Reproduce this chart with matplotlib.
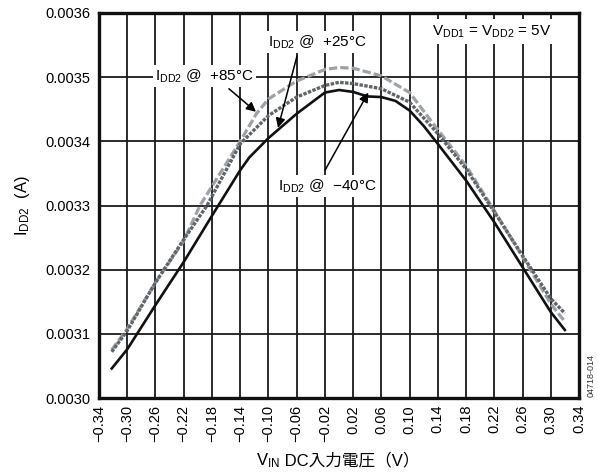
import numpy as np
import matplotlib
matplotlib.use('Agg')
import matplotlib.pyplot as plt

plt.rcParams['font.family'] = ['Liberation Sans', 'Noto Sans CJK JP']
plt.rcParams['mathtext.fontset'] = 'custom'
plt.rcParams['mathtext.rm'] = 'Liberation Sans'
plt.rcParams['mathtext.it'] = 'Liberation Sans:italic'
plt.rcParams['mathtext.bf'] = 'Liberation Sans:bold'
plt.rcParams['lines.scale_dashes'] = False

# I_DD2 vs VIN
x_m40 = [-0.322, -0.30, -0.26, -0.22, -0.18, -0.14, -0.127, -0.10, -0.06, -0.02,
         0.0, 0.02, 0.04, 0.06, 0.08, 0.10, 0.12, 0.14, 0.18, 0.22, 0.26, 0.30, 0.32]
i_m40 = [0.003046, 0.003076, 0.003145, 0.003212, 0.003284, 0.003355, 0.003375,
         0.003405, 0.003443, 0.003476, 0.003480, 0.003477, 0.003470, 0.003469,
         0.003463, 0.003448, 0.003424, 0.003396, 0.003339, 0.003274, 0.003204,
         0.003134, 0.003106]

x_p25 = [-0.322, -0.30, -0.26, -0.22, -0.187, -0.14, -0.10, -0.06, -0.02, 0.0,
         0.02, 0.06, 0.10, 0.14, 0.18, 0.22, 0.26, 0.30, 0.32]
i_p25 = [0.003072, 0.003105, 0.003180, 0.003247, 0.003300, 0.003396, 0.003440,
         0.003469, 0.003487, 0.003492, 0.003490, 0.003482, 0.003461, 0.003412,
         0.003357, 0.003290, 0.003222, 0.003155, 0.003132]

x_p85 = [-0.322, -0.30, -0.26, -0.22, -0.197, -0.14, -0.117, -0.10, -0.06, -0.02,
         0.0, 0.02, 0.06, 0.10, 0.14, 0.18, 0.22, 0.26, 0.30, 0.32]
i_p85 = [0.003075, 0.003108, 0.003180, 0.003245, 0.003300, 0.003400, 0.003443,
         0.003466, 0.003494, 0.003512, 0.003515, 0.003514, 0.003502, 0.003476,
         0.003418, 0.003362, 0.003292, 0.003220, 0.003147, 0.003119]

xticks = np.round(np.arange(-0.34, 0.35, 0.04), 2)
yticks = np.round(np.arange(0.0030, 0.00361, 0.0001), 4)

fig = plt.figure(figsize=(5.98, 4.74), dpi=100)
ax = fig.add_axes([0.1656, 0.1603, 0.8026, 0.8123])

ax.plot(x_p85, i_p85, color='#9da2a7', lw=2.3, dashes=(6, 2.2), zorder=3)
ax.plot(x_p25, i_p25, color='#5f6569', lw=2.4, dashes=(2.5, 1), zorder=4)
ax.plot(x_m40, i_m40, color='#111111', lw=1.9, zorder=5)

ax.set_xlim(-0.34, 0.34)
ax.set_ylim(0.0030, 0.0036)
ax.set_xticks(xticks)
ax.set_yticks(yticks)
ax.set_xticklabels([('%.2f' % v).replace('-', '\u2212') for v in xticks], rotation=90)
ax.set_yticklabels(['%.4f' % v for v in yticks])
ax.tick_params(length=0, labelsize=10.5)
ax.tick_params(axis='y', pad=6.5)
ax.tick_params(axis='x', pad=5)
ax.grid(True, color='#1a1a1a', lw=1.3)
ax.set_axisbelow(True)
for s in ax.spines.values():
    s.set_linewidth(2.4)
    s.set_color('#111111')

box = dict(fc='white', ec='none', pad=1.5)
arrow = dict(arrowstyle='-|>', color='black', lw=1.1, mutation_scale=14, shrinkA=0, shrinkB=0)

ax.text(-0.2607, 0.003502, r'I$_{\mathrm{DD2}}$ @  +85°C', fontsize=11,
        va='center', ha='left', bbox=box, zorder=6)
ax.annotate('', xy=(-0.1176, 0.003446), xytext=(-0.156, 0.003482),
            arrowprops=arrow, zorder=7)

ax.text(-0.1006, 0.003555, r'I$_{\mathrm{DD2}}$ @  +25°C', fontsize=11,
        va='center', ha='left', bbox=box, zorder=6)
ax.annotate('', xy=(-0.0864, 0.003421), xytext=(-0.0595, 0.003533),
            arrowprops=arrow, zorder=7)

ax.text(-0.0864, 0.003330, r'I$_{\mathrm{DD2}}$ @  −40°C', fontsize=11,
        va='center', ha='left', bbox=box, zorder=6)
ax.annotate('', xy=(0.0415, 0.003476), xytext=(-0.0198, 0.003355),
            arrowprops=arrow, zorder=7)

ax.text(0.1317, 0.003571, r'V$_{\mathrm{DD1}}$ = V$_{\mathrm{DD2}}$ = 5V', fontsize=11,
        va='center', ha='left', bbox=dict(fc='white', ec='none', pad=3), zorder=6)

# axis labels; the CJK part of the x label is kept out of mathtext
fig.text(280 / 598, 9 / 474, r'V$_{\mathrm{IN}}$', fontsize=12, ha='right', va='baseline')
fig.text(280 / 598, 9 / 474, ' DC入力電圧（V）', fontsize=12, ha='left', va='baseline')
fig.text(23 / 598, 1 - 206 / 474, r'I$_{\mathrm{DD2}}$  (A)', fontsize=12,
         ha='center', va='center', rotation=90)

fig.text(0.988, 1 - 397 / 474, '04718-014', fontsize=6.5, rotation=90,
         ha='center', va='bottom', color='#333333')

fig.savefig('out.png', dpi=100)
